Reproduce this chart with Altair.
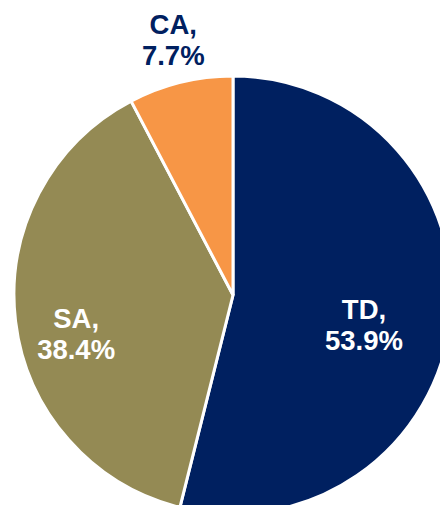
import altair as alt
import pandas as pd

categories = ["TD", "SA", "CA"]
shares = [53.9, 38.4, 7.7]
colors = ["#002060", "#948A54", "#F79646"]
label_colors = ["#FFFFFF", "#FFFFFF", "#002060"]

df = pd.DataFrame({
    "cat": categories,
    "share": shares,
    "idx": list(range(len(categories))),
    "label": [f"{c},\n{v}%" for c, v in zip(categories, shares)],
})

CX, CY, R = 225, 287, 219

base = alt.Chart(df).encode(
    theta=alt.Theta("share:Q", stack=True),
    order=alt.Order("idx:Q"),
    x=alt.value(CX),
    y=alt.value(CY),
)

pie = base.mark_arc(
    radius=R, stroke="white", strokeWidth=3
).encode(
    color=alt.Color("cat:N", scale=alt.Scale(domain=categories, range=colors), legend=None),
)

def label_layer(cat, radius, dx, dy, color):
    return base.transform_calculate(
        txt=f"datum.cat == '{cat}' ? datum.label : ''"
    ).mark_text(
        radius=radius, dx=dx, dy=dy, font="Liberation Sans", fontSize=27.5,
        fontWeight="bold", lineBreak="\n", lineHeight=31, color=color,
        align="center", baseline="middle",
    ).encode(text="txt:N")

layers = [pie]
offsets = {"TD": (132, 0, 0), "SA": (158, 0, 6), "CA": (266, 4, -11)}
for c, lc in zip(categories, label_colors):
    r, dx, dy = offsets[c]
    layers.append(label_layer(c, r, dx, dy, lc))

chart = alt.layer(*layers).properties(
    width=432, height=497,
    autosize=alt.AutoSizeParams(type="none"),
    padding=0,
).configure_view(strokeWidth=0)

chart.save("out.html", embed_options={"renderer": "svg", "actions": False})
